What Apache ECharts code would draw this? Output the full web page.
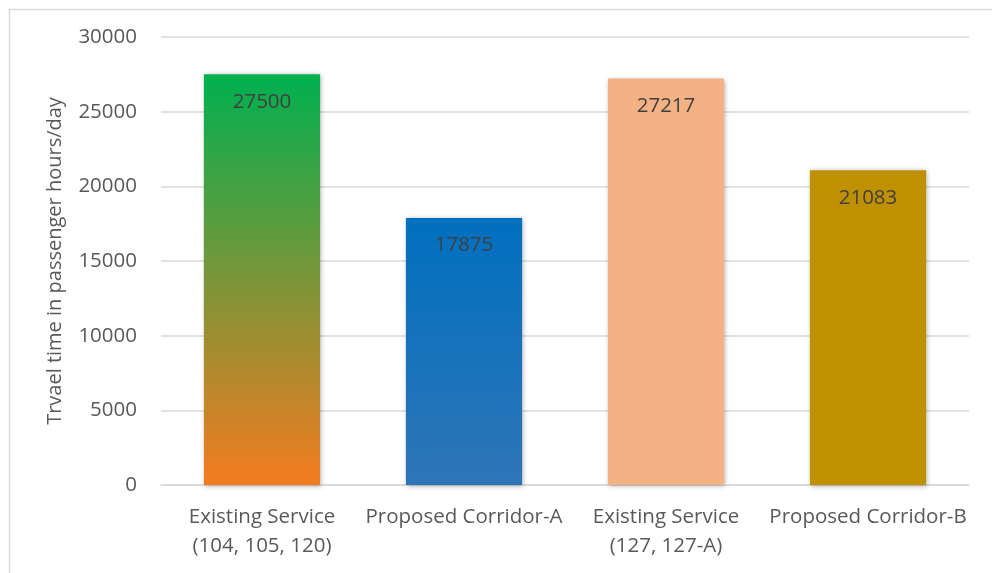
<!DOCTYPE html>
<html><head><meta charset="utf-8">
<script src="https://cdn.jsdelivr.net/npm/echarts@6/dist/echarts.min.js"></script>
<style>html,body{margin:0;padding:0;background:#fff}#c{width:992px;height:573px}</style>
</head><body><div id="c"></div>
<script>
const categories = ['Existing Service\n(104, 105, 120)', 'Proposed Corridor-A', 'Existing Service\n(127, 127-A)', 'Proposed Corridor-B'];
const values = [27500, 17875, 27217, 21083];
const yTicks = { min: 0, max: 30000, interval: 5000 };
const yName = 'Trvael time in passenger hours/day';

const fills = [
  { type: 'linear', x: 0, y: 0, x2: 0, y2: 1, colorStops: [{ offset: 0, color: '#00b050' }, { offset: 1, color: '#f57b20' }] },
  { type: 'linear', x: 0, y: 0, x2: 0, y2: 1, colorStops: [{ offset: 0, color: '#0070c0' }, { offset: 1, color: '#2e75b6' }] },
  '#f4b183',
  '#bf9000'
];
const font = '"Open Sans", sans-serif';
const fs = 20.5;
const chart = echarts.init(document.getElementById('c'));
chart.setOption({
  animation: false,
  graphic: [{ type: 'rect', left: 7, top: 7, shape: { width: 1100, height: 700 }, style: { fill: 'none', stroke: '#d9d9d9', lineWidth: 1.5 }, silent: true }],
  grid: { left: 161, right: 23, top: 37, bottom: 88 },
  xAxis: {
    type: 'category', data: categories,
    axisLine: { lineStyle: { color: '#d9d9d9', width: 1.5 } },
    axisTick: { show: false },
    axisLabel: { color: '#595959', fontSize: fs, fontFamily: font, lineHeight: 29, margin: 18, interval: 0 }
  },
  yAxis: {
    type: 'value', min: yTicks.min, max: yTicks.max, interval: yTicks.interval,
    name: yName, nameLocation: 'middle', nameGap: 96,
    nameTextStyle: { color: '#595959', fontSize: 20, fontFamily: font },
    axisLine: { show: false }, axisTick: { show: false },
    axisLabel: { color: '#595959', fontSize: fs, fontFamily: font, margin: 24, formatter: v => String(v) },
    splitLine: { lineStyle: { color: '#d9d9d9', width: 1.5 } }
  },
  series: [{
    type: 'bar', barWidth: '57.5%',
    data: values.map((v, i) => ({ value: v, itemStyle: { color: fills[i] } })),
    itemStyle: { shadowColor: 'rgba(0,0,0,0.35)', shadowBlur: 5, shadowOffsetX: 1, shadowOffsetY: 1 },
    label: { show: true, position: 'insideTop', distance: 17, color: '#404040', fontSize: fs, fontFamily: font }
  }]
});
</script></body></html>
